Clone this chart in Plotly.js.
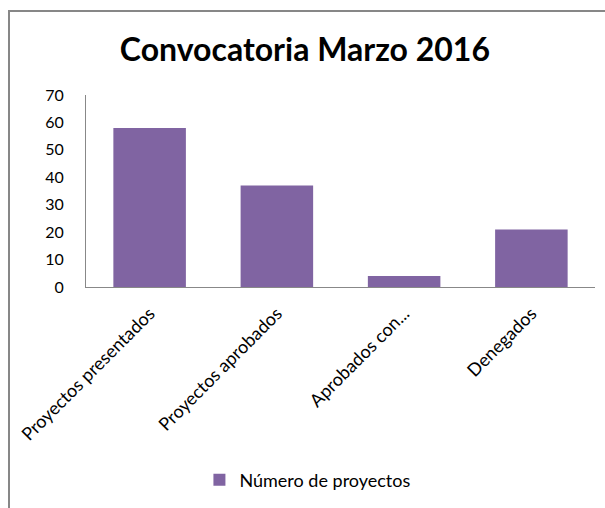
<!DOCTYPE html>
<html>
<head>
<meta charset="utf-8">
<script src="https://cdn.plot.ly/plotly-3.0.1.min.js"></script>
<style>
  html, body { margin: 0; padding: 0; background: #fff; }
  #frame { position: absolute; left: 8px; top: 10px; width: 620px; height: 520px;
           border-left: 2px solid #878787; border-top: 2px solid #878787; }
  #chart { position: absolute; left: 0; top: 0; width: 605px; height: 508px; }
</style>
</head>
<body>
<div id="frame"></div>
<div id="chart"></div>
<script>
const categories = ["Proyectos presentados", "Proyectos aprobados", "Aprobados con...", "Denegados"];
const values = [58, 37, 4, 21];
const seriesName = "Número de proyectos";
const yTicks = [0, 10, 20, 30, 40, 50, 60, 70];

const FONT = "Lato, 'Open Sans', sans-serif";

Plotly.newPlot("chart", [{
  type: "bar",
  x: categories,
  y: values,
  name: seriesName,
  marker: { color: "#8064A2" },
  showlegend: true,
  hoverinfo: "x+y"
}], {
  width: 605, height: 508,
  paper_bgcolor: "rgba(0,0,0,0)",
  plot_bgcolor: "rgba(0,0,0,0)",
  margin: { l: 86, r: 10, t: 95, b: 219, pad: 0 },
  bargap: 0.43,
  title: {
    text: "<b>Convocatoria Marzo 2016</b>",
    font: { family: FONT, size: 32, color: "#000" },
    x: 0.504, xanchor: "center",
    y: 0.902, yanchor: "middle", yref: "container"
  },
  xaxis: {
    type: "category",
    tickangle: -45,
    tickfont: { family: FONT, size: 18, color: "#000" },
    showline: true, linecolor: "#888888", linewidth: 1,
    ticks: "", showgrid: false, zeroline: false,
    ticklabelstandoff: 8
  },
  yaxis: {
    range: [0, 70],
    tickvals: yTicks,
    tickfont: { family: FONT, size: 16, color: "#000" },
    showline: true, linecolor: "#888888", linewidth: 1,
    ticks: "", showgrid: false, zeroline: false,
    ticklabelstandoff: 18
  },
  showlegend: true,
  legend: {
    orientation: "h",
    x: 0.436, xanchor: "center",
    y: -1.005, yanchor: "middle",
    font: { family: FONT, size: 18, color: "#000" },
    itemwidth: 30
  }
}, { displayModeBar: false });
</script>
</body>
</html>
